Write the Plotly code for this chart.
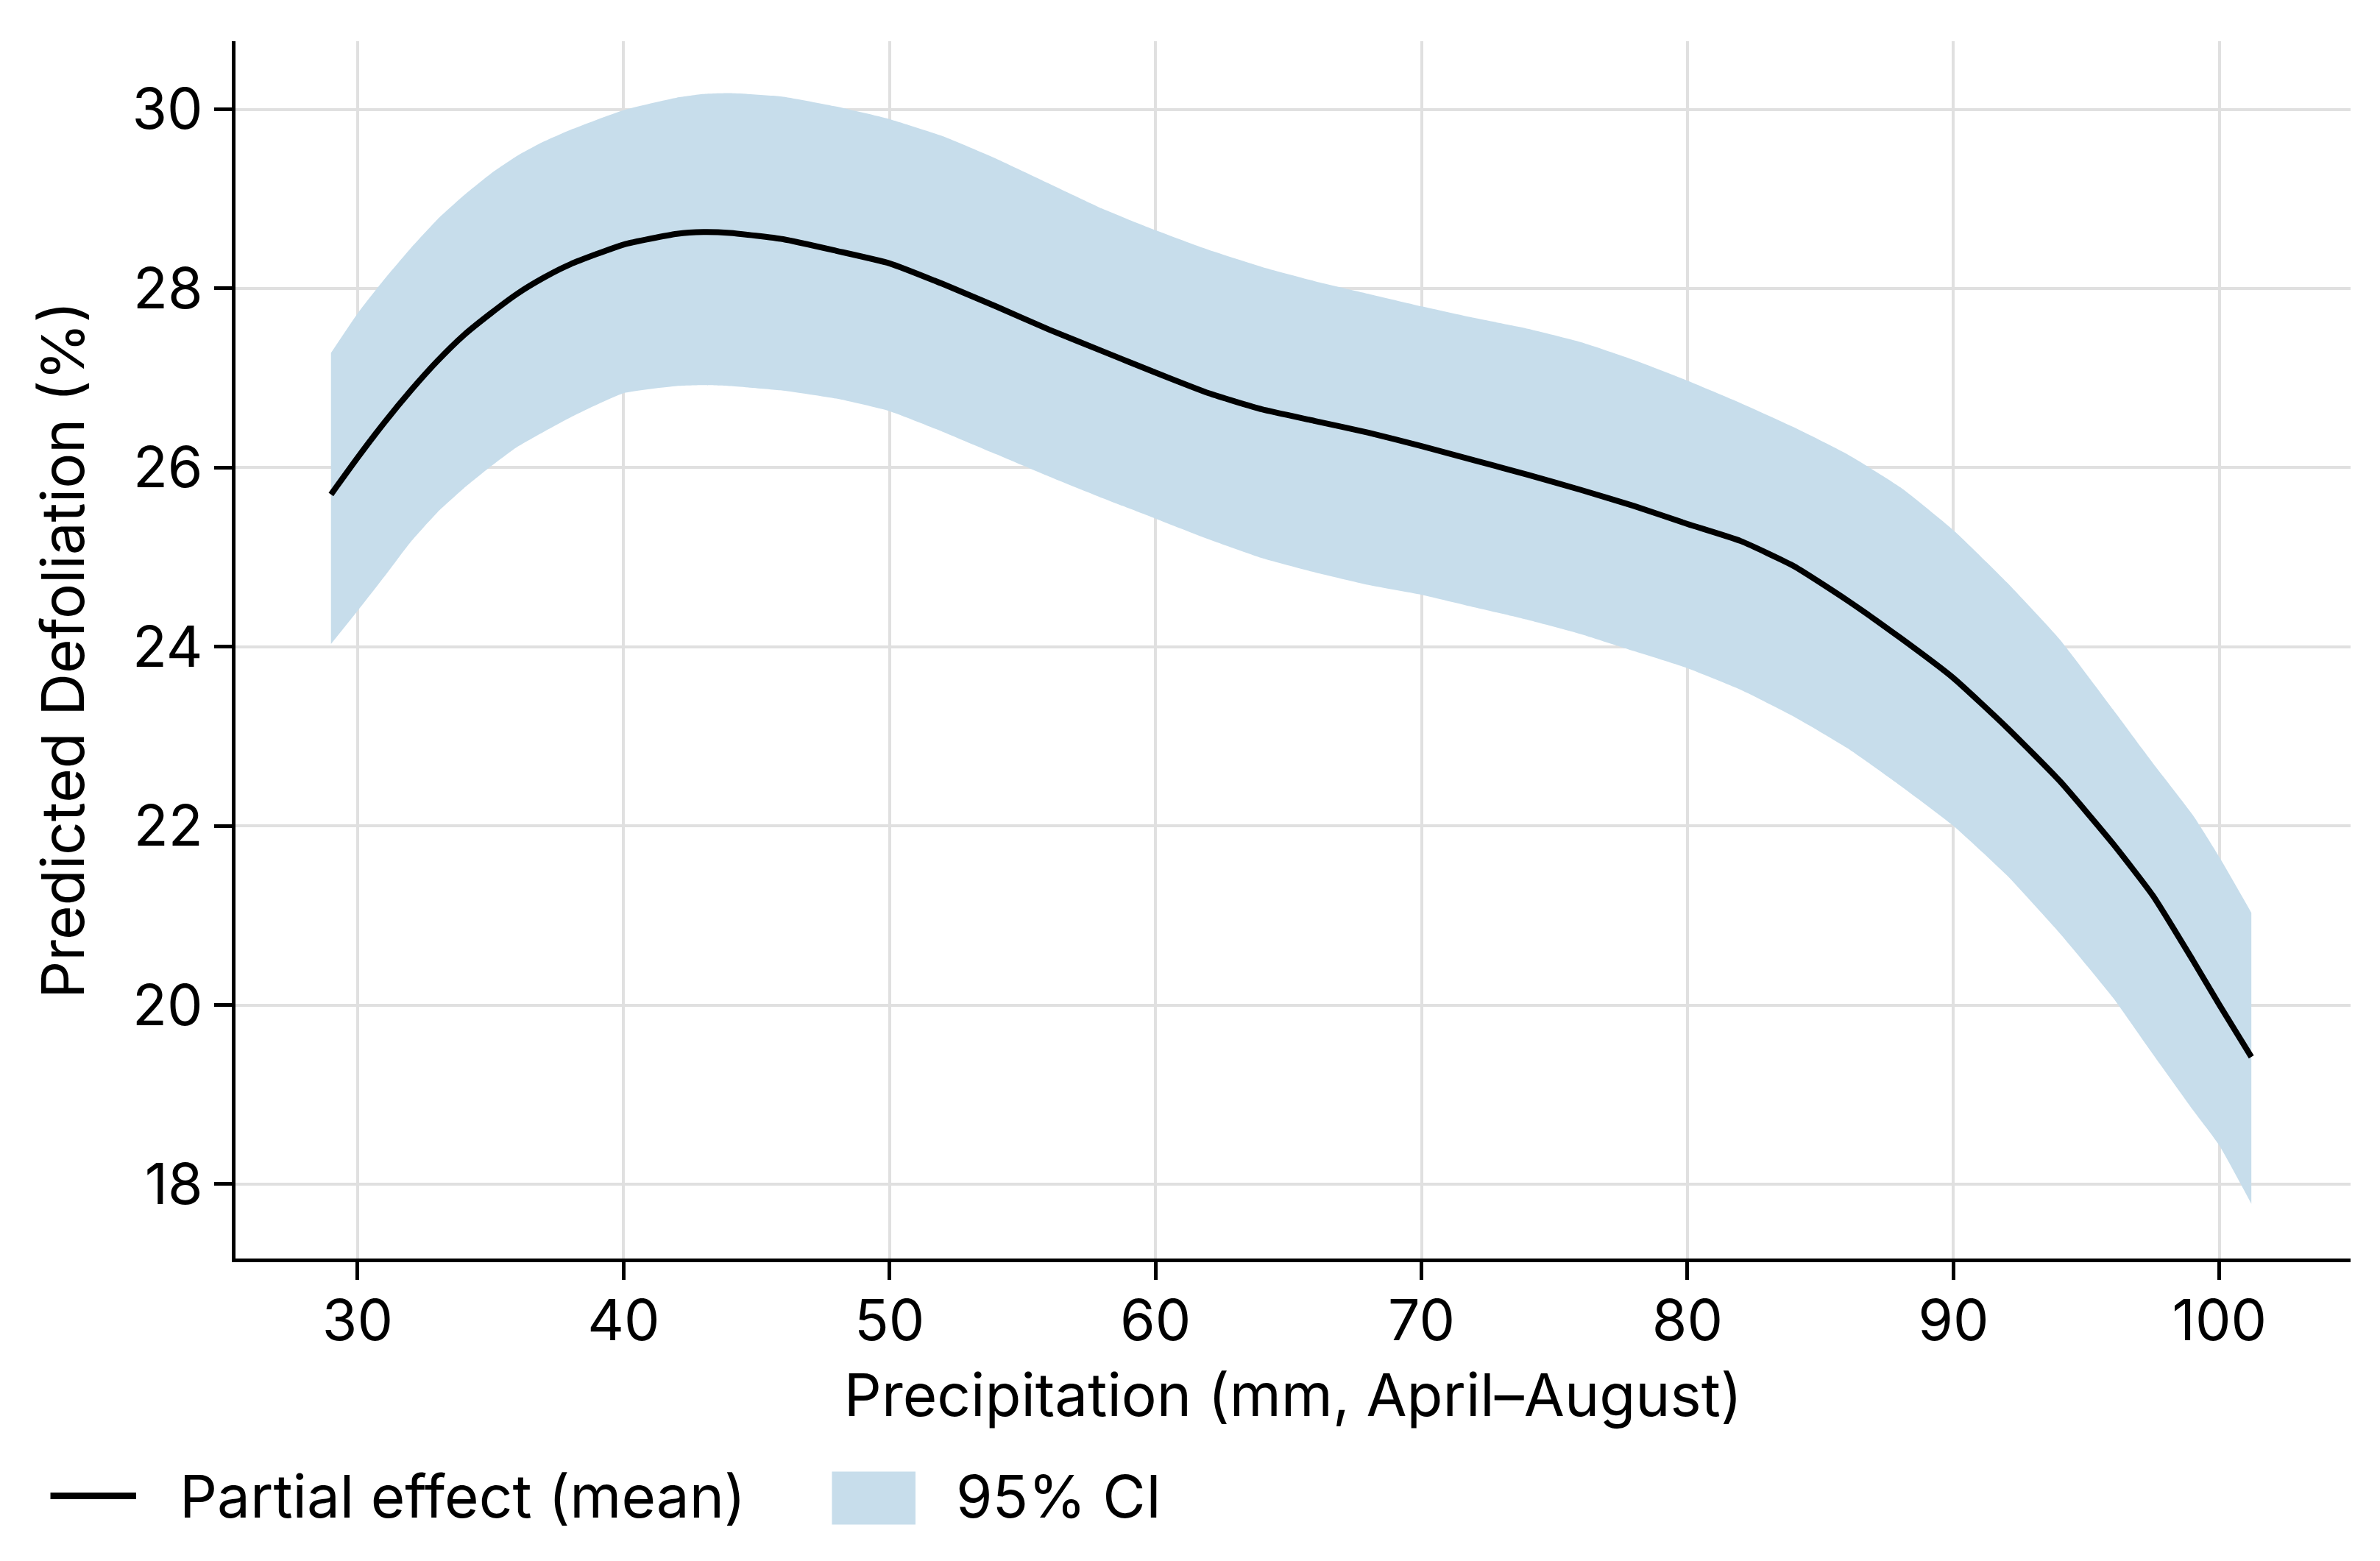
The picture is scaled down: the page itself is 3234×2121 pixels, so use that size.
import plotly.graph_objects as go

# Precipitation (mm, April–August)
precip = [29, 30, 31, 32, 33, 34, 35, 36, 37, 38, 40, 42, 43, 44, 46, 48, 50, 52, 54, 56, 58,
          60, 62, 64, 66, 68, 70, 72, 74, 76, 78, 80, 82, 84, 86, 88, 90, 92, 94, 96,
          97.5, 99, 100, 101.2]

mean_effect = [25.7, 26.11, 26.5, 26.86, 27.19, 27.48, 27.72, 27.94, 28.12, 28.27, 28.49, 28.61,
               28.63, 28.62, 28.55, 28.42, 28.28, 28.05, 27.8, 27.54, 27.3,
               27.06, 26.83, 26.65, 26.52, 26.39, 26.24, 26.08, 25.92, 25.75, 25.57, 25.37,
               25.18, 24.9, 24.52, 24.1, 23.65, 23.1, 22.5, 21.8,
               21.22, 20.5, 20.0, 19.42]

ci_upper = [27.28, 27.72, 28.1, 28.45, 28.77, 29.04, 29.28, 29.48, 29.64, 29.77, 29.99, 30.13,
            30.17, 30.18, 30.14, 30.03, 29.89, 29.7, 29.45, 29.17, 28.89,
            28.65, 28.43, 28.24, 28.08, 27.94, 27.8, 27.67, 27.55, 27.4, 27.2, 26.97,
            26.72, 26.45, 26.15, 25.78, 25.3, 24.72, 24.08, 23.3,
            22.7, 22.12, 21.65, 21.03]

ci_lower = [24.03, 24.4, 24.78, 25.17, 25.5, 25.77, 26.01, 26.23, 26.4, 26.56, 26.83, 26.91,
            26.92, 26.91, 26.86, 26.77, 26.63, 26.4, 26.15, 25.9, 25.66,
            25.43, 25.2, 24.99, 24.83, 24.69, 24.58, 24.44, 24.3, 24.14, 23.95, 23.76,
            23.52, 23.22, 22.87, 22.45, 22.0, 21.45, 20.8, 20.08,
            19.45, 18.83, 18.43, 17.78]

x_ticks = [30, 40, 50, 60, 70, 80, 90, 100]
y_ticks = [18, 20, 22, 24, 26, 28, 30]

legend_labels = ["Partial effect (mean)", "95% CI"]

FONT = "Inter"
CI_COLOR = "#c7ddeb"
SMOOTH = 0.5

fig = go.Figure()

fig.add_trace(go.Scatter(
    x=precip, y=ci_lower, mode="lines", line=dict(width=0, shape="spline", smoothing=SMOOTH),
    showlegend=False, hoverinfo="skip"))
fig.add_trace(go.Scatter(
    x=precip, y=ci_upper, mode="lines", line=dict(width=0, shape="spline", smoothing=SMOOTH),
    fill="tonexty", fillcolor=CI_COLOR, name=legend_labels[1], showlegend=False))
fig.add_trace(go.Scatter(
    x=precip, y=mean_effect, mode="lines",
    line=dict(color="black", width=8, shape="spline", smoothing=SMOOTH),
    name=legend_labels[0], showlegend=False))

axis_common = dict(
    showgrid=True, gridcolor="#e0e0e0", gridwidth=4,
    showline=True, linecolor="black", linewidth=5,
    ticks="outside", ticklen=24, tickwidth=5, tickcolor="black",
    tickfont=dict(family=FONT, size=77, color="black"),
    zeroline=False, mirror=False,
)

fig.update_xaxes(range=[25.41, 104.93], tickvals=x_ticks, ticklabelstandoff=-10, **axis_common,
                 title=dict(text="Precipitation (mm, April–August)",
                            font=dict(family=FONT, size=80, color="black"), standoff=30))
fig.update_yaxes(range=[17.17, 30.76], tickvals=y_ticks, **axis_common,
                 title=dict(text="Predicted Defoliation (%)",
                            font=dict(family=FONT, size=80, color="black"), standoff=40))

# Legend below the plot (drawn as layout decoration, paper coordinates)
LEG_Y = -0.195
fig.add_shape(type="line", xref="paper", yref="paper",
              x0=-0.0875, x1=-0.047, y0=LEG_Y, y1=LEG_Y,
              line=dict(color="black", width=9))
fig.add_annotation(xref="paper", yref="paper", x=-0.027, y=LEG_Y, xanchor="left",
                   yanchor="middle", showarrow=False, text=legend_labels[0],
                   font=dict(family=FONT, size=80, color="black"))
fig.add_shape(type="rect", xref="paper", yref="paper",
              x0=0.282, x1=0.3215, y0=-0.2185, y1=-0.175,
              line=dict(width=0), fillcolor=CI_COLOR)
fig.add_annotation(xref="paper", yref="paper", x=0.340, y=LEG_Y, xanchor="left",
                   yanchor="middle", showarrow=False, text=legend_labels[1],
                   font=dict(family=FONT, size=80, color="black"))

fig.update_layout(
    width=3234, height=2121,
    margin=dict(l=312, r=48, t=48, b=419),
    plot_bgcolor="white", paper_bgcolor="white",
    font=dict(family=FONT, color="black"),
    showlegend=False,
)

fig.write_html("out.html")
